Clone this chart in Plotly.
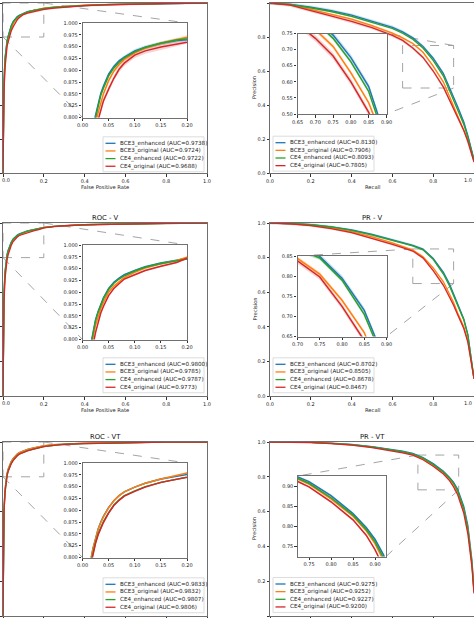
import plotly.graph_objects as go

W, H = 474, 618
FONT = "DejaVu Sans"

series_names = ["BCE3_enhanced", "BCE3_original", "CE4_enhanced", "CE4_original"]
series_colors = ["#1f77b4", "#ff7f0e", "#2ca02c", "#d62728"]
band_colors = ["rgba(31,119,180,0.2)", "rgba(255,127,14,0.2)",
               "rgba(44,160,44,0.2)", "rgba(214,39,40,0.2)"]

# ---------------- ROC data (false positive rate grid) ----------------
roc_fpr = [0, 0.002, 0.005, 0.01, 0.015, 0.02, 0.025, 0.03, 0.035, 0.04, 0.05, 0.06, 0.07,
           0.08, 0.10, 0.12, 0.15, 0.18, 0.20, 0.25, 0.3, 0.4, 0.5, 0.6, 0.8, 1.0]

roc_t_auc = [0.9738, 0.9724, 0.9722, 0.9688]
roc_t_bce3_enh = [0, 0.35, 0.55, 0.68, 0.74, 0.78, 0.805, 0.83, 0.851, 0.866, 0.892, 0.908, 0.92,
                  0.928, 0.941, 0.949, 0.957, 0.963, 0.966, 0.973, 0.978, 0.985, 0.99, 0.993, 0.997, 1.0]
roc_t_bce3_org = [0, 0.3, 0.5, 0.65, 0.72, 0.765, 0.79, 0.81, 0.833, 0.85, 0.878, 0.898, 0.912,
                  0.923, 0.937, 0.947, 0.957, 0.965, 0.970, 0.976, 0.981, 0.987, 0.991, 0.994, 0.998, 1.0]
roc_t_ce4_enh = [0, 0.33, 0.54, 0.67, 0.735, 0.775, 0.80, 0.826, 0.847, 0.862, 0.888, 0.905, 0.917,
                 0.926, 0.939, 0.948, 0.957, 0.964, 0.968, 0.975, 0.980, 0.986, 0.990, 0.993, 0.997, 1.0]
roc_t_ce4_org = [0, 0.28, 0.48, 0.62, 0.70, 0.745, 0.77, 0.795, 0.818, 0.835, 0.860, 0.883, 0.902,
                 0.915, 0.932, 0.941, 0.949, 0.957, 0.962, 0.970, 0.976, 0.984, 0.989, 0.993, 0.997, 1.0]
roc_t_band = [0.004, 0.004, 0.003, 0.006]

roc_v_auc = [0.9800, 0.9785, 0.9787, 0.9773]
roc_v_bce3_enh = [0, 0.4, 0.6, 0.72, 0.785, 0.818, 0.842, 0.86, 0.875, 0.888, 0.908, 0.921, 0.93,
                  0.937, 0.946, 0.954, 0.962, 0.969, 0.974, 0.981, 0.985, 0.99, 0.993, 0.995, 0.998, 1.0]
roc_v_bce3_org = [0, 0.37, 0.57, 0.7, 0.765, 0.805, 0.83, 0.85, 0.865, 0.878, 0.9, 0.913, 0.923,
                  0.931, 0.942, 0.951, 0.96, 0.967, 0.974, 0.981, 0.985, 0.99, 0.993, 0.995, 0.998, 1.0]
roc_v_ce4_enh = [0, 0.4, 0.6, 0.72, 0.782, 0.815, 0.84, 0.858, 0.873, 0.886, 0.906, 0.919, 0.928,
                 0.935, 0.945, 0.953, 0.961, 0.968, 0.973, 0.98, 0.985, 0.99, 0.993, 0.995, 0.998, 1.0]
roc_v_ce4_org = [0, 0.35, 0.55, 0.68, 0.745, 0.788, 0.815, 0.838, 0.856, 0.87, 0.893, 0.908, 0.919,
                 0.928, 0.937, 0.946, 0.955, 0.963, 0.972, 0.979, 0.984, 0.989, 0.992, 0.995, 0.998, 1.0]
roc_v_band = [0.002, 0.002, 0.002, 0.002]

roc_vt_auc = [0.9833, 0.9832, 0.9807, 0.9806]
roc_vt_bce3_enh = [0, 0.42, 0.62, 0.73, 0.79, 0.819, 0.843, 0.861, 0.875, 0.887, 0.906, 0.92, 0.931,
                   0.939, 0.949, 0.957, 0.966, 0.973, 0.978, 0.985, 0.989, 0.993, 0.995, 0.997, 0.999, 1.0]
roc_vt_bce3_org = [0, 0.42, 0.62, 0.73, 0.79, 0.818, 0.842, 0.86, 0.874, 0.886, 0.905, 0.92, 0.931,
                   0.939, 0.949, 0.957, 0.966, 0.974, 0.979, 0.985, 0.989, 0.993, 0.995, 0.997, 0.999, 1.0]
roc_vt_ce4_enh = [0, 0.4, 0.6, 0.71, 0.785, 0.81, 0.832, 0.85, 0.864, 0.876, 0.895, 0.911, 0.922,
                  0.931, 0.941, 0.95, 0.959, 0.967, 0.973, 0.981, 0.986, 0.991, 0.994, 0.996, 0.999, 1.0]
roc_vt_ce4_org = [0, 0.4, 0.6, 0.71, 0.78, 0.806, 0.83, 0.848, 0.862, 0.874, 0.894, 0.91, 0.921,
                  0.93, 0.94, 0.949, 0.959, 0.967, 0.973, 0.981, 0.986, 0.991, 0.994, 0.996, 0.999, 1.0]
roc_vt_band = [0.0015, 0.0015, 0.0015, 0.0015]

# ---------------- PR data (recall grid) ----------------
pr_recall = [0, 0.05, 0.1, 0.2, 0.3, 0.4, 0.5, 0.6, 0.65, 0.7, 0.75, 0.8, 0.85, 0.88, 0.9,
             0.92, 0.95, 0.97, 1.0]

pr_t_auc = [0.8130, 0.7906, 0.8093, 0.7805]
pr_t_bce3_enh = [1.0, 0.997, 0.992, 0.975, 0.955, 0.928, 0.894, 0.857, 0.83, 0.795, 0.745, 0.675,
                 0.585, 0.503, 0.45, 0.39, 0.3, 0.22, 0.08]
pr_t_bce3_org = [1.0, 0.996, 0.99, 0.962, 0.935, 0.905, 0.867, 0.823, 0.795, 0.762, 0.71, 0.628,
                 0.535, 0.45, 0.395, 0.34, 0.26, 0.195, 0.07]
pr_t_ce4_enh = [1.0, 0.997, 0.991, 0.972, 0.95, 0.922, 0.888, 0.85, 0.822, 0.787, 0.735, 0.662,
                0.57, 0.485, 0.43, 0.37, 0.285, 0.21, 0.075]
pr_t_ce4_org = [1.0, 0.995, 0.988, 0.955, 0.925, 0.892, 0.855, 0.81, 0.78, 0.735, 0.68, 0.6,
                0.505, 0.43, 0.38, 0.325, 0.25, 0.185, 0.065]
pr_t_band = [0.01, 0.007, 0.006, 0.01]

pr_v_auc = [0.8702, 0.8505, 0.8678, 0.8467]
pr_v_bce3_enh = [1.0, 0.999, 0.997, 0.991, 0.978, 0.96, 0.934, 0.903, 0.888, 0.871, 0.849, 0.795,
                 0.715, 0.647, 0.59, 0.53, 0.445, 0.355, 0.1]
pr_v_bce3_org = [1.0, 0.999, 0.996, 0.987, 0.972, 0.95, 0.92, 0.885, 0.866, 0.844, 0.805, 0.74,
                 0.66, 0.59, 0.54, 0.48, 0.4, 0.32, 0.1]
pr_v_ce4_enh = [1.0, 0.999, 0.997, 0.99, 0.977, 0.958, 0.932, 0.9, 0.885, 0.868, 0.845, 0.79,
                0.705, 0.636, 0.58, 0.52, 0.44, 0.35, 0.1]
pr_v_ce4_org = [1.0, 0.998, 0.995, 0.985, 0.968, 0.945, 0.913, 0.877, 0.858, 0.838, 0.798, 0.725,
                0.64, 0.575, 0.525, 0.47, 0.39, 0.31, 0.1]
pr_v_band = [0.007, 0.005, 0.005, 0.007]

pr_vt_recall = [0, 0.05, 0.1, 0.2, 0.3, 0.4, 0.5, 0.6, 0.65, 0.7, 0.75, 0.8, 0.85, 0.88, 0.9,
                0.92, 0.95, 0.97, 0.99, 1.0]
pr_vt_auc = [0.9275, 0.9252, 0.9227, 0.9200]
pr_vt_bce3_enh = [1.0, 1.0, 1.0, 0.998, 0.993, 0.986, 0.974, 0.957, 0.947, 0.934, 0.911, 0.876,
                  0.832, 0.797, 0.768, 0.728, 0.63, 0.52, 0.32, 0.15]
pr_vt_bce3_org = [1.0, 1.0, 1.0, 0.998, 0.992, 0.984, 0.971, 0.953, 0.942, 0.929, 0.905, 0.868,
                  0.825, 0.789, 0.757, 0.713, 0.61, 0.5, 0.3, 0.14]
pr_vt_ce4_enh = [1.0, 1.0, 1.0, 0.998, 0.992, 0.985, 0.972, 0.955, 0.944, 0.931, 0.907, 0.871,
                 0.828, 0.792, 0.762, 0.72, 0.615, 0.5, 0.3, 0.14]
pr_vt_ce4_org = [1.0, 1.0, 0.999, 0.997, 0.991, 0.982, 0.968, 0.949, 0.938, 0.924, 0.898, 0.861,
                 0.816, 0.778, 0.742, 0.697, 0.59, 0.47, 0.28, 0.13]
pr_vt_band = [0.003, 0.003, 0.003, 0.003]

# ---------------- tick labels ----------------
main_ticks = [0.0, 0.2, 0.4, 0.6, 0.8, 1.0]
roc_inset_xticks = [0.00, 0.05, 0.10, 0.15, 0.20]
roc_inset_yticks = [0.800, 0.825, 0.850, 0.875, 0.900, 0.925, 0.950, 0.975, 1.000]
pr_t_inset_xticks = [0.65, 0.70, 0.75, 0.80, 0.85, 0.90]
pr_t_inset_yticks = [0.50, 0.55, 0.60, 0.65, 0.70, 0.75]
pr_v_inset_xticks = [0.70, 0.75, 0.80, 0.85, 0.90]
pr_v_inset_yticks = [0.65, 0.70, 0.75, 0.80, 0.85]
pr_vt_inset_ticks = [0.75, 0.80, 0.85, 0.90]

titles = [None, None, "ROC - V", "PR - V", "ROC - VT", "PR - VT"]

panels = [
    dict(x=roc_fpr, ys=[roc_t_bce3_enh, roc_t_bce3_org, roc_t_ce4_enh, roc_t_ce4_org],
         auc=roc_t_auc, band=roc_t_band, kind="roc", col=0, row=0,
         main=(3, 207, 3, 173), inset=(82.5, 187, 23, 117.5),
         ixr=[0, 0.2], iyr=[0.8, 1.0], ixt=(roc_inset_xticks, ".2f"), iyt=(roc_inset_yticks, ".3f"),
         corners=(1, 3), leg=(103, 143.3)),
    dict(x=pr_recall, ys=[pr_t_bce3_enh, pr_t_bce3_org, pr_t_ce4_enh, pr_t_ce4_org],
         auc=pr_t_auc, band=pr_t_band, kind="pr", col=1, row=0,
         main=(270, 474, 3, 173), inset=(297.5, 386.5, 33.5, 114),
         ixr=[0.65, 0.9], iyr=[0.5, 0.75], ixt=(pr_t_inset_xticks, ".2f"), iyt=(pr_t_inset_yticks, ".2f"),
         corners=(1, 4), leg=(273, 142.7)),
    dict(x=roc_fpr, ys=[roc_v_bce3_enh, roc_v_bce3_org, roc_v_ce4_enh, roc_v_ce4_org],
         auc=roc_v_auc, band=roc_v_band, kind="roc", col=0, row=1,
         main=(3, 207, 223, 396), inset=(82.5, 187, 245, 339.5),
         ixr=[0, 0.2], iyr=[0.8, 1.0], ixt=(roc_inset_xticks, ".2f"), iyt=(roc_inset_yticks, ".3f"),
         corners=(1, 3), leg=(103, 364.3)),
    dict(x=pr_recall, ys=[pr_v_bce3_enh, pr_v_bce3_org, pr_v_ce4_enh, pr_v_ce4_org],
         auc=pr_v_auc, band=pr_v_band, kind="pr", col=1, row=1,
         main=(270, 474, 223, 396), inset=(297.5, 386.5, 256, 336.5),
         ixr=[0.7, 0.9], iyr=[0.65, 0.85], ixt=(pr_v_inset_xticks, ".2f"), iyt=(pr_v_inset_yticks, ".2f"),
         corners=(2, 4), leg=(273, 364.3)),
    dict(x=roc_fpr, ys=[roc_vt_bce3_enh, roc_vt_bce3_org, roc_vt_ce4_enh, roc_vt_ce4_org],
         auc=roc_vt_auc, band=roc_vt_band, kind="roc", col=0, row=2,
         main=(3, 207, 442, 616), inset=(82.5, 187, 463, 557.5),
         ixr=[0, 0.2], iyr=[0.8, 1.0], ixt=(roc_inset_xticks, ".2f"), iyt=(roc_inset_yticks, ".3f"),
         corners=(1, 3), leg=(103, 584.3)),
    dict(x=pr_vt_recall, ys=[pr_vt_bce3_enh, pr_vt_bce3_org, pr_vt_ce4_enh, pr_vt_ce4_org],
         auc=pr_vt_auc, band=pr_vt_band, kind="pr", col=1, row=2,
         main=(270, 474, 442, 616), inset=(298, 386, 476, 556.5),
         ixr=[0.725, 0.925], iyr=[0.725, 0.925], ixt=(pr_vt_inset_ticks, ".2f"), iyt=(pr_vt_inset_ticks, ".2f"),
         corners=(2, 4), leg=(273, 584)),
]


def px(x):
    return x / W


def py(y):
    return 1 - y / H


def aid(n):
    return "" if n == 1 else str(n)


fig = go.Figure()
shapes = []
annotations = []
layout_axes = {}

tickfont = dict(family=FONT, size=5, color="#222")
tick_txt = [f"{v:.1f}" for v in main_ticks]

for i, p in enumerate(panels):
    m, n = i + 1, i + 7
    for ax_n, is_inset in ((m, False), (n, True)):
        for k in range(4):
            xs, ys, w = p["x"], p["ys"][k], p["band"][k]
            if w > 0:
                upper = [v + w for v in ys]
                lower = [v - w for v in ys]
                fig.add_trace(go.Scatter(
                    x=list(xs) + list(xs[::-1]), y=upper + lower[::-1],
                    fill="toself", fillcolor=band_colors[k], line=dict(width=0),
                    mode="lines", hoverinfo="skip", showlegend=False,
                    xaxis="x" + aid(ax_n), yaxis="y" + aid(ax_n)))
        for k in range(4):
            fig.add_trace(go.Scatter(
                x=p["x"], y=p["ys"][k], mode="lines",
                line=dict(color=series_colors[k], width=1.5 if is_inset else 1.3),
                name=series_names[k], showlegend=False,
                xaxis="x" + aid(ax_n), yaxis="y" + aid(ax_n)))

    x0, x1, y0, y1 = p["main"]
    common = dict(showline=True, mirror=True, linecolor="#6f6f6f", linewidth=1,
                  ticks="outside", ticklen=2.5, tickwidth=0.7, tickcolor="#333",
                  showgrid=False, zeroline=False, tickfont=tickfont, automargin=False)
    xtt = list(tick_txt)
    if p["col"] == 0:
        xtt[0] = ""
    else:
        xtt[-1] = ""
    show_x_lbl = p["row"] < 2
    show_y_lbl = p["col"] == 1
    layout_axes["xaxis" + aid(m)] = dict(domain=[px(x0), px(x1)], range=[0, 1], anchor="y" + aid(m),
                                         tickmode="array", tickvals=main_ticks, ticktext=xtt,
                                         showticklabels=show_x_lbl, **common)
    layout_axes["yaxis" + aid(m)] = dict(domain=[py(y1), py(y0)], range=[0, 1], anchor="x" + aid(m),
                                         tickmode="array", tickvals=main_ticks, ticktext=tick_txt,
                                         showticklabels=show_y_lbl, **common)
    if show_x_lbl:
        if p["col"] == 0:
            annotations.append(dict(xref="paper", yref="paper", x=0, y=py(y1 + 6.5),
                                    xanchor="left", yanchor="middle", showarrow=False,
                                    text="0.0", font=tickfont))
        else:
            annotations.append(dict(xref="paper", yref="paper", x=px(W - 0.5), y=py(y1 + 6.5),
                                    xanchor="right", yanchor="middle", showarrow=False,
                                    text="1.0", font=tickfont))

    ix0, ix1, iy0, iy1 = p["inset"]
    icommon = dict(common)
    icommon["linewidth"] = 1.4
    icommon["linecolor"] = "#707070"
    xt, xf = p["ixt"]
    yt, yf = p["iyt"]
    layout_axes["xaxis" + aid(n)] = dict(domain=[px(ix0), px(ix1)], range=p["ixr"], anchor="y" + aid(n),
                                         tickmode="array", tickvals=xt,
                                         ticktext=[format(v, xf) for v in xt], **icommon)
    layout_axes["yaxis" + aid(n)] = dict(domain=[py(iy1), py(iy0)], range=p["iyr"], anchor="x" + aid(n),
                                         tickmode="array", tickvals=yt,
                                         ticktext=[format(v, yf) for v in yt], **icommon)
    shapes.append(dict(type="rect", xref="x" + aid(n), yref="y" + aid(n), layer="below",
                       x0=p["ixr"][0], x1=p["ixr"][1], y0=p["iyr"][0], y1=p["iyr"][1],
                       fillcolor="white", line=dict(width=0)))
    shapes.append(dict(type="rect", xref="x" + aid(m), yref="y" + aid(m), layer="below",
                       x0=p["ixr"][0], x1=p["ixr"][1], y0=p["iyr"][0], y1=p["iyr"][1],
                       line=dict(color="#9a9a9a", width=0.9, dash="dash")))

    def main_pt(dx, dy):
        return (x0 + dx * (x1 - x0), y1 - dy * (y1 - y0))

    rect_c = {1: main_pt(p["ixr"][1], p["iyr"][1]), 2: main_pt(p["ixr"][0], p["iyr"][1]),
              3: main_pt(p["ixr"][0], p["iyr"][0]), 4: main_pt(p["ixr"][1], p["iyr"][0])}
    ins_c = {1: (ix1, iy0), 2: (ix0, iy0), 3: (ix0, iy1), 4: (ix1, iy1)}
    for c in p["corners"]:
        (ax_, ay_), (bx_, by_) = rect_c[c], ins_c[c]
        shapes.append(dict(type="line", xref="paper", yref="paper", layer="below",
                           x0=px(ax_), y0=py(ay_), x1=px(bx_), y1=py(by_),
                           line=dict(color="#9a9a9a", width=0.9, dash="dash")))

    lx, ly = p["leg"]
    step = 7.65
    shapes.append(dict(type="rect", xref="paper", yref="paper", layer="above",
                       x0=px(lx), x1=px(lx + 101), y0=py(ly - 6.5), y1=py(ly + 3 * step + 5.5),
                       fillcolor="rgba(255,255,255,0.85)", line=dict(color="#d4d4d4", width=0.8)))
    for k in range(4):
        yy = ly + k * step
        shapes.append(dict(type="line", xref="paper", yref="paper", layer="above",
                           x0=px(lx + 2.5), x1=px(lx + 12.5), y0=py(yy), y1=py(yy),
                           line=dict(color=series_colors[k], width=1.3)))
        annotations.append(dict(xref="paper", yref="paper", x=px(lx + 14.5), y=py(yy),
                                xanchor="left", yanchor="middle", showarrow=False,
                                text=f"{series_names[k]} (AUC={p['auc'][k]:.4f})",
                                font=dict(family=FONT, size=5.6, color="#222")))

    if titles[i]:
        annotations.append(dict(xref="paper", yref="paper", x=px((x0 + x1) / 2), y=py(y0 - 5),
                                xanchor="center", yanchor="middle", showarrow=False,
                                text=titles[i], font=dict(family=FONT, size=6.8, color="#111")))
    if p["row"] < 2:
        xlabel = "False Positive Rate" if p["kind"] == "roc" else "Recall"
        annotations.append(dict(xref="paper", yref="paper", x=px((x0 + x1) / 2), y=py(y1 + 13.5),
                                xanchor="center", yanchor="middle", showarrow=False,
                                text=xlabel, font=dict(family=FONT, size=5.2, color="#222")))
    if p["kind"] == "pr":
        annotations.append(dict(xref="paper", yref="paper", x=px(x0 - 16), y=py((y0 + y1) / 2),
                                xanchor="center", yanchor="middle", showarrow=False, textangle=-90,
                                text="Precision", font=dict(family=FONT, size=5.2, color="#222")))

fig.update_layout(
    template="none",
    width=W, height=H, margin=dict(l=0, r=0, t=0, b=0, pad=0),
    paper_bgcolor="white", plot_bgcolor="white",
    showlegend=False, shapes=shapes, annotations=annotations,
    font=dict(family=FONT, size=5, color="#222"),
    **layout_axes,
)

fig.write_html("out.html", config={"displayModeBar": False},
               post_script="document.body.style.margin='0';document.body.style.padding='0';")
